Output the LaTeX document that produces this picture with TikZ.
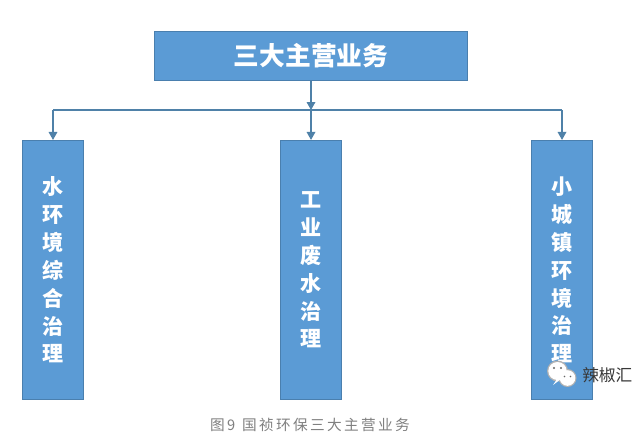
\documentclass[tikz,border=0pt]{standalone}
\usepackage{fontspec}
\setmainfont{Noto Sans CJK SC}
\newfontfamily\capfont[LetterSpace=16]{Noto Sans CJK SC}
\usetikzlibrary{arrows.meta}
\definecolor{boxfill}{HTML}{5B9BD5}
\definecolor{boxline}{HTML}{4A7FAE}
\definecolor{linkblue}{HTML}{4F81A8}
\tikzset{
  x=0.75pt, y=-0.75pt,
  topbox/.style={draw=boxline, fill=boxfill, line width=0.6pt, minimum width=235pt, minimum height=37pt, inner sep=0pt, text=white, font=\fontsize{19.3}{22}\selectfont\bfseries},
  sidebox/.style={draw=boxline, fill=boxfill, line width=0.6pt, minimum width=46pt, minimum height=194.5pt, inner sep=0pt, text=white, align=center, font=\fontsize{15.8}{20.9}\selectfont\bfseries},
  link/.style={draw=linkblue, line width=0.9pt},
  linkarrow/.style={link, -{Triangle[length=6pt,width=6.5pt]}},
}
\begin{document}
\begin{tikzpicture}
\useasboundingbox (0,0) rectangle (641,439);
\fill[white] (0,0) rectangle (641,439);

% Main heading and the three business lines
\node[topbox] (main) at (311,56) {三大主营业务};
\node[sidebox] (water) at (53,270) {水\\环\\境\\综\\合\\治\\理};
\node[sidebox] (waste) at (311,270) {工\\业\\废\\水\\治\\理};
\node[sidebox] (town) at (562,270) {小\\城\\镇\\环\\境\\治\\理};

% Horizontal bus between the heading and the lines
\coordinate (hub) at (311,110);
\coordinate (busL) at (53,110);
\coordinate (busR) at (562,110);

\draw[linkarrow] (main.south) -- (hub);
\draw[link] (busL) -- (busR);
\draw[linkarrow] (busL) -- (water.north);
\draw[linkarrow] (hub) -- (waste.north);
\draw[linkarrow] (busR) -- (town.north);

% Caption
\node[text=black!50, font=\fontsize{11}{12}\selectfont\capfont] (caption) at (310,425) {图9\hspace{5pt}国祯环保三大主营业务};

% Chat-bubble mark with the account name
\fill[black!30] (557.5,371) circle (10.5);
\fill[black!30] (567.5,378) circle (9);
\fill[white] (557.5,371) ellipse (9.2 and 9);
\fill[white] (557,379) -- (553,385) -- (561,379) -- cycle;
\fill[white] (567.5,378) circle (7.8);
\fill[black!60] (554,368) circle (1.1) (561,368) circle (1.1)
  (564.5,376.5) circle (0.9) (570.5,376.5) circle (0.9);
\node[text=black!78, font=\fontsize{12.5}{14}\selectfont, anchor=west, inner sep=0pt] (account) at (582,375) {辣椒汇};
\end{tikzpicture}
\end{document}
